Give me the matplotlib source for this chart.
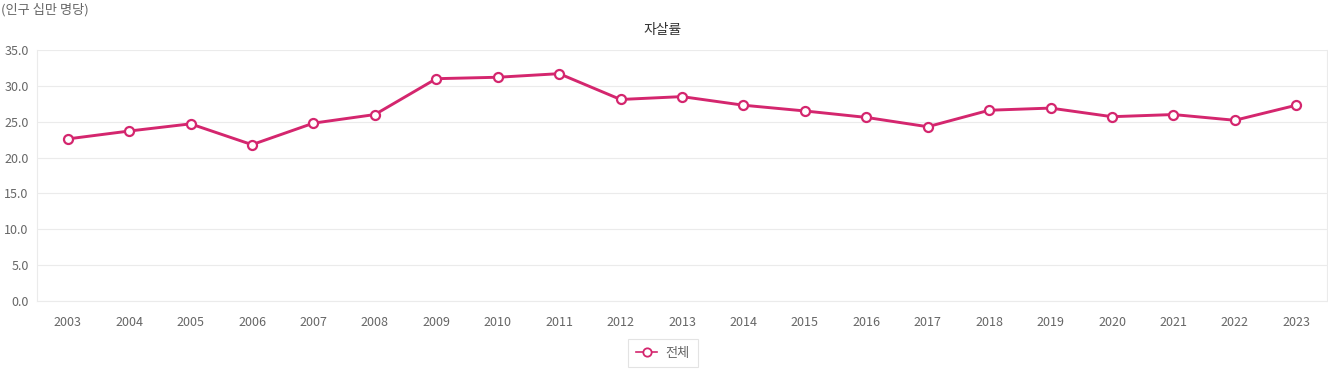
import matplotlib
matplotlib.use("Agg")
import matplotlib.pyplot as plt

plt.rcParams['font.family'] = ['Noto Sans CJK KR', 'DejaVu Sans']

years = ['2003', '2004', '2005', '2006', '2007', '2008', '2009', '2010', '2011', '2012',
         '2013', '2014', '2015', '2016', '2017', '2018', '2019', '2020', '2021', '2022', '2023']
rates = [22.6, 23.7, 24.7, 21.8, 24.8, 26.0, 31.0, 31.2, 31.7, 28.1,
         28.5, 27.3, 26.5, 25.6, 24.3, 26.6, 26.9, 25.7, 26.0, 25.2, 27.3]
y_ticks = [0, 5, 10, 15, 20, 25, 30, 35]

line_color = '#d4266e'
grid_color = '#ebebeb'
text_color = '#666666'

fig = plt.figure(figsize=(13.28, 3.70), dpi=100)
ax = fig.add_axes([37 / 1328, 1 - 301 / 370, 1290 / 1328, 251 / 370])

x = list(range(len(years)))
ax.plot(x, rates, color=line_color, linewidth=2.1, marker='o', markersize=6.5,
        markerfacecolor='white', markeredgecolor=line_color, markeredgewidth=1.6,
        label='전체', zorder=3)

ax.set_xlim(-0.5, len(years) - 0.5)
ax.set_ylim(0, 35)
ax.set_xticks(x)
ax.set_xticklabels(years)
ax.set_yticks(y_ticks)
ax.set_yticklabels([f'{v:.1f}' for v in y_ticks])
ax.tick_params(axis='both', length=0, labelsize=9, labelcolor=text_color)
ax.tick_params(axis='x', pad=11)
ax.tick_params(axis='y', pad=6)
ax.grid(axis='y', color=grid_color, linewidth=0.8)
ax.set_axisbelow(True)
for side in ['left', 'right', 'bottom']:
    ax.spines[side].set_color(grid_color)
ax.spines['top'].set_visible(False)

fig.text(663 / 1328, 1 - 30 / 370, '자살률', ha='center', va='center',
         fontsize=10, color='#333333')
fig.text(1 / 1328, 1 - 10 / 370, '(인구 십만 명당)', ha='left', va='center',
         fontsize=9.5, color=text_color)

leg = fig.legend(loc='center', bbox_to_anchor=(663 / 1328, 1 - 353 / 370),
                 frameon=True, fancybox=False, fontsize=9.5, handlelength=1.6,
                 borderpad=0.6, handletextpad=0.6)
leg.get_frame().set_edgecolor('#dddddd')
leg.get_frame().set_linewidth(0.8)
for t in leg.get_texts():
    t.set_color(text_color)
for h in leg.legend_handles:
    h.set_markersize(6)
    h.set_linewidth(1.2)
    h.set_markeredgewidth(1.3)

fig.savefig('out.png', dpi=100)
